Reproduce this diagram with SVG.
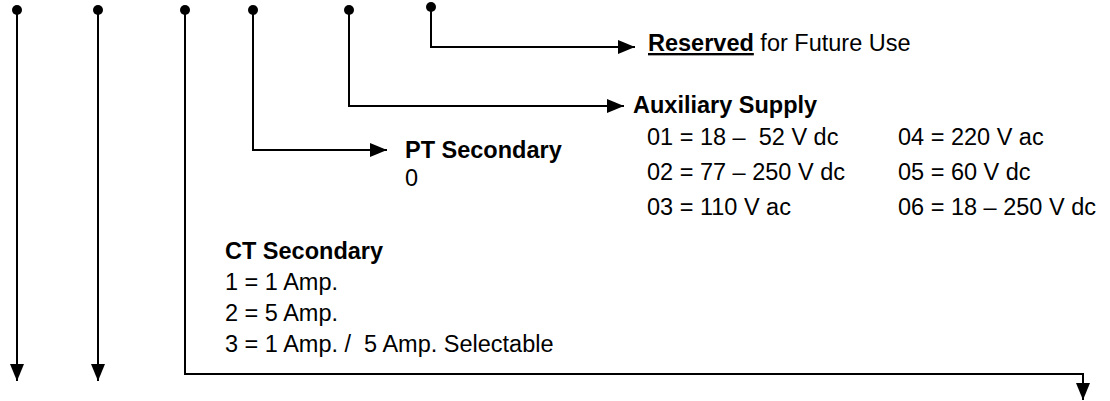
<svg xmlns="http://www.w3.org/2000/svg" width="1110" height="401" viewBox="0 0 1110 401">
  <style>
    .wire { fill: none; stroke: #000; stroke-width: 2; }
    .dot { fill: #000; }
    text { font-family: "Liberation Sans", Arial, sans-serif; font-size: 23.5px; fill: #000; }
    .hd { font-weight: bold; }
  </style>
  <defs>
    <marker id="arrow" markerUnits="userSpaceOnUse" markerWidth="17" markerHeight="14" refX="17" refY="7" orient="auto">
      <path d="M0,0 L17,7 L0,14 z" fill="#000"/>
    </marker>
  </defs>

  <rect width="1110" height="401" fill="#fff"/>

  <!-- leader lines from each code position -->
  <g id="connectors">
    <path class="wire" d="M17,10 V381" marker-end="url(#arrow)"/>
    <path class="wire" d="M98,10 V381" marker-end="url(#arrow)"/>
    <path class="wire" d="M185,10 V374 H1083 V400" marker-end="url(#arrow)"/>
    <path class="wire" d="M253,10 V150 H387" marker-end="url(#arrow)"/>
    <path class="wire" d="M349,10 V106 H624" marker-end="url(#arrow)"/>
    <path class="wire" d="M431,7 V47 H635" marker-end="url(#arrow)"/>
    <circle class="dot" cx="17" cy="10" r="5"/>
    <circle class="dot" cx="98" cy="10" r="5"/>
    <circle class="dot" cx="185" cy="10" r="5"/>
    <circle class="dot" cx="253" cy="10" r="5"/>
    <circle class="dot" cx="349" cy="10" r="5"/>
    <circle class="dot" cx="431" cy="7" r="5"/>
  </g>

  <g id="reserved">
    <text x="648" y="51"><tspan class="hd" text-decoration="underline">Reserved</tspan> for Future Use</text>
  </g>

  <g id="auxiliary-supply">
    <text class="hd" x="633" y="113">Auxiliary Supply</text>
    <text x="647" y="145">01 = 18 –&#160; 52 V dc</text>
    <text x="647" y="180">02 = 77 – 250 V dc</text>
    <text x="647" y="215">03 = 110 V ac</text>
    <text x="898" y="145">04 = 220 V ac</text>
    <text x="898" y="180">05 = 60 V dc</text>
    <text x="898" y="215">06 = 18 – 250 V dc</text>
  </g>

  <g id="pt-secondary">
    <text class="hd" x="405" y="158">PT Secondary</text>
    <text x="405" y="186">0</text>
  </g>

  <g id="ct-secondary">
    <text class="hd" x="225" y="259">CT Secondary</text>
    <text x="225" y="290">1 = 1 Amp.</text>
    <text x="225" y="321">2 = 5 Amp.</text>
    <text x="225" y="352">3 = 1 Amp. /&#160; 5 Amp. Selectable</text>
  </g>
</svg>
